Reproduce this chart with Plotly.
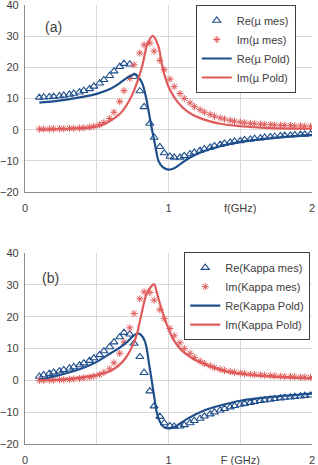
import plotly.graph_objects as go

# ---------------- data ----------------
freq = [0.10, 0.13, 0.17, 0.20, 0.24, 0.27, 0.31, 0.34, 0.38, 0.41,
        0.45, 0.48, 0.52, 0.55, 0.59, 0.62, 0.66, 0.69, 0.73, 0.76,
        0.80, 0.83, 0.87, 0.90, 0.94, 0.97, 1.01, 1.04, 1.08, 1.11,
        1.15, 1.18, 1.22, 1.25, 1.29, 1.32, 1.36, 1.39, 1.43, 1.46,
        1.50, 1.53, 1.57, 1.60, 1.64, 1.67, 1.71, 1.74, 1.78, 1.81,
        1.85, 1.88, 1.92, 1.95, 1.99]

re_mu_mes = [10.3, 10.4, 10.5, 10.6, 10.8, 11.0, 11.3, 11.6, 12.0, 12.5,
             13.1, 13.9, 14.9, 16.0, 17.3, 18.8, 20.2, 21.2, 21.0, 17.0,
             12.4, 7.3, 2.0, -2.5, -5.5, -7.5, -8.6, -8.9, -8.9, -8.4,
             -7.8, -7.3, -6.7, -6.2, -5.7, -5.2, -4.8, -4.4, -4.1, -3.8,
             -3.6, -3.3, -3.1, -2.9, -2.7, -2.5, -2.3, -2.2, -2.0, -1.9,
             -1.8, -1.7, -1.6, -1.5, -1.4]

im_mu_mes = [0.2, 0.2, 0.2, 0.3, 0.3, 0.3, 0.4, 0.4, 0.5, 0.6,
             0.8, 1.1, 1.6, 2.3, 3.6, 5.6, 9.0, 12.5, 16.5, 20.8,
             24.6, 27.2, 27.8, 25.2, 22.2, 19.2, 16.2, 13.8, 11.6, 10.0,
             8.6, 7.4, 6.4, 5.6, 4.9, 4.3, 3.8, 3.4, 3.0, 2.7,
             2.4, 2.2, 2.0, 1.9, 1.8, 1.7, 1.6, 1.5, 1.4, 1.4,
             1.3, 1.2, 1.2, 1.1, 1.1]

re_mu_pold_f = [0.10, 0.20, 0.30, 0.40, 0.50, 0.60, 0.65, 0.70, 0.74, 0.77,
                0.80, 0.82, 0.845, 0.865, 0.885, 0.905, 0.93, 0.96, 1.00, 1.04,
                1.09, 1.15, 1.24, 1.36, 1.50, 1.70, 2.00]
re_mu_pold = [8.7, 9.1, 9.7, 10.5, 11.5, 13.2, 14.6, 16.3, 17.4, 17.8,
              16.3, 14.5, 10.0, 5.0, 0.0, -4.5, -10.0, -12.0, -12.8, -12.4,
              -10.8, -8.9, -7.0, -5.3, -3.9, -2.8, -1.7]

im_mu_pold_f = [0.10, 0.30, 0.50, 0.59, 0.66, 0.73, 0.78, 0.82, 0.85, 0.89,
                0.93, 0.952, 0.975, 1.01, 1.06, 1.13, 1.22, 1.36, 1.50, 1.70, 2.00]
im_mu_pold = [0.0, 0.3, 1.0, 2.7, 5.0, 9.6, 15.0, 21.0, 27.0, 30.1,
              26.7, 21.4, 17.1, 12.8, 9.1, 5.9, 3.7, 1.9, 1.1, 0.5, 0.3]

re_kappa_mes = [1.2, 1.7, 2.1, 2.5, 2.9, 3.3, 3.8, 4.2, 4.8, 5.4,
                6.2, 7.0, 8.0, 9.2, 10.5, 12.0, 13.6, 15.0, 14.5, 11.6,
                7.4, 2.4, -3.4, -8.1, -11.4, -13.4, -14.3, -14.5, -14.4, -14.0,
                -13.4, -12.7, -12.0, -11.3, -10.6, -10.0, -9.4, -8.9, -8.4, -8.0,
                -7.6, -7.3, -7.0, -6.7, -6.4, -6.2, -6.0, -5.8, -5.6, -5.4,
                -5.3, -5.1, -5.0, -4.8, -4.7]

im_kappa_mes = [0.0, 0.0, 0.1, 0.1, 0.2, 0.2, 0.3, 0.4, 0.6, 0.8,
                1.0, 1.3, 1.8, 2.5, 3.6, 5.5, 8.5, 12.0, 16.5, 21.0,
                25.6, 27.8, 27.6, 25.2, 22.2, 19.4, 16.3, 14.0, 11.8, 10.0,
                8.5, 7.2, 6.1, 5.3, 4.6, 4.0, 3.5, 3.1, 2.8, 2.5,
                2.3, 2.1, 1.9, 1.8, 1.7, 1.6, 1.5, 1.4, 1.3, 1.2,
                1.2, 1.1, 1.0, 1.0, 0.9]

re_kappa_pold_f = [0.10, 0.20, 0.30, 0.40, 0.50, 0.60, 0.66, 0.71, 0.75, 0.785,
                   0.81, 0.835, 0.848, 0.865, 0.883, 0.90, 0.918, 0.94, 0.97, 1.00,
                   1.04, 1.13, 1.24, 1.36, 1.50, 1.70, 2.00]
re_kappa_pold = [0.2, 1.2, 2.4, 3.8, 5.8, 8.6, 10.3, 12.0, 13.8, 14.8,
                 14.2, 12.3, 10.0, 5.0, 0.0, -5.0, -10.0, -13.0, -14.8, -15.1,
                 -14.7, -12.1, -9.6, -7.9, -6.4, -5.3, -4.2]

im_kappa_pold_f = [0.10, 0.30, 0.50, 0.60, 0.68, 0.72, 0.75, 0.78, 0.81, 0.85,
                   0.90, 0.92, 0.95, 0.99, 1.03, 1.09, 1.17, 1.27, 1.40, 1.59, 1.82, 2.00]
im_kappa_pold = [0.0, 0.4, 1.7, 3.0, 5.8, 8.3, 11.0, 14.5, 20.5, 27.5,
                 30.2, 27.3, 22.6, 17.3, 13.1, 9.5, 6.8, 4.7, 2.8, 1.6, 0.9, 0.6]

x_tickvals = [0, 0.5, 1, 1.5, 2]
x_ticktext_a = ["0", "", "1", "f(GHz)", "2"]
x_ticktext_b = ["0", "", "1", "F (GHz)", "2"]
y_tickvals = [-20, -10, 0, 10, 20, 30, 40]

# ---------------- style ----------------
BLUE = "#1f4e8c"
RED = "#e05a5a"
GRID = "#d9d9d9"
AXIS = "#8c8c8c"
TXT = "#404040"
FONT = "Liberation Sans, Arial, sans-serif"

fig = go.Figure()


def add_panel(xa, ya, legend, f_m, re_m, im_m, f_re, re_l, f_im, im_l, names):
    fig.add_trace(go.Scatter(
        x=f_m, y=re_m, mode="markers", name=names[0], legend=legend,
        xaxis=xa, yaxis=ya,
        marker=dict(symbol="triangle-up-open", size=7, color=BLUE,
                    line=dict(width=1.1, color=BLUE))))
    fig.add_trace(go.Scatter(
        x=f_m, y=im_m, mode="markers", name=names[1], legend=legend,
        xaxis=xa, yaxis=ya,
        marker=dict(symbol="asterisk-open", size=6, color=RED,
                    line=dict(width=1.0, color=RED))))
    fig.add_trace(go.Scatter(
        x=f_re, y=re_l, mode="lines", name=names[2], legend=legend,
        xaxis=xa, yaxis=ya, line=dict(color=BLUE, width=2.2, shape="spline", smoothing=0.8)))
    fig.add_trace(go.Scatter(
        x=f_im, y=im_l, mode="lines", name=names[3], legend=legend,
        xaxis=xa, yaxis=ya, line=dict(color=RED, width=2.2, shape="spline", smoothing=0.8)))


add_panel("x", "y", "legend", freq, re_mu_mes, im_mu_mes,
          re_mu_pold_f, re_mu_pold, im_mu_pold_f, im_mu_pold,
          ["Re(\u00b5 mes)", "Im(\u00b5 mes)", "Re(\u00b5 Pold)", "Im(\u00b5 Pold)"])
add_panel("x2", "y2", "legend2", freq, re_kappa_mes, im_kappa_mes,
          re_kappa_pold_f, re_kappa_pold, im_kappa_pold_f, im_kappa_pold,
          ["Re(Kappa mes)", "Im(Kappa mes)", "Re(Kappa Pold)", "Im(Kappa Pold)"])

xcommon = dict(range=[0, 2], tickvals=x_tickvals, showgrid=True, gridcolor=GRID,
               gridwidth=1, showline=True, linecolor=AXIS, linewidth=1.3,
               zeroline=False, ticks="", tickfont=dict(size=11, color=TXT, family=FONT),
               ticklabelstandoff=6, automargin=False, ticklabeloverflow="allow")
ycommon = dict(range=[-20, 40], tickvals=y_tickvals, showgrid=True, gridcolor=GRID,
               gridwidth=1, showline=True, linecolor=AXIS, linewidth=1.3,
               zeroline=False, ticks="", tickfont=dict(size=11, color=TXT, family=FONT),
               ticklabelstandoff=3, automargin=False, ticklabeloverflow="allow")

legcommon = dict(bgcolor="white", bordercolor="#404040", borderwidth=1,
                 font=dict(size=11, color=TXT, family=FONT), xanchor="left",
                 yanchor="top", itemwidth=30, tracegroupgap=0)

fig.update_layout(
    width=318, height=465,
    margin=dict(l=25, r=6, t=5, b=21, autoexpand=False),
    paper_bgcolor="white", plot_bgcolor="white",
    font=dict(family=FONT, color=TXT),
    xaxis=dict(domain=[0, 1], anchor="y", ticktext=x_ticktext_a, **xcommon),
    yaxis=dict(domain=[0.574, 1], anchor="x", **ycommon),
    xaxis2=dict(domain=[0, 1], anchor="y2", ticktext=x_ticktext_b, **xcommon),
    yaxis2=dict(domain=[0, 0.435], anchor="x2", **ycommon),
    legend=dict(x=0.595, y=1.0, **legcommon),
    legend2=dict(x=0.555, y=0.437, **legcommon),
    annotations=[
        dict(text="(a)", x=0.2, y=33, xref="x", yref="y", showarrow=False,
             font=dict(size=14, color=TXT, family=FONT)),
        dict(text="(b)", x=0.175, y=32.3, xref="x2", yref="y2", showarrow=False,
             font=dict(size=14, color=TXT, family=FONT)),
    ],
)

fig.write_html("out.html")
